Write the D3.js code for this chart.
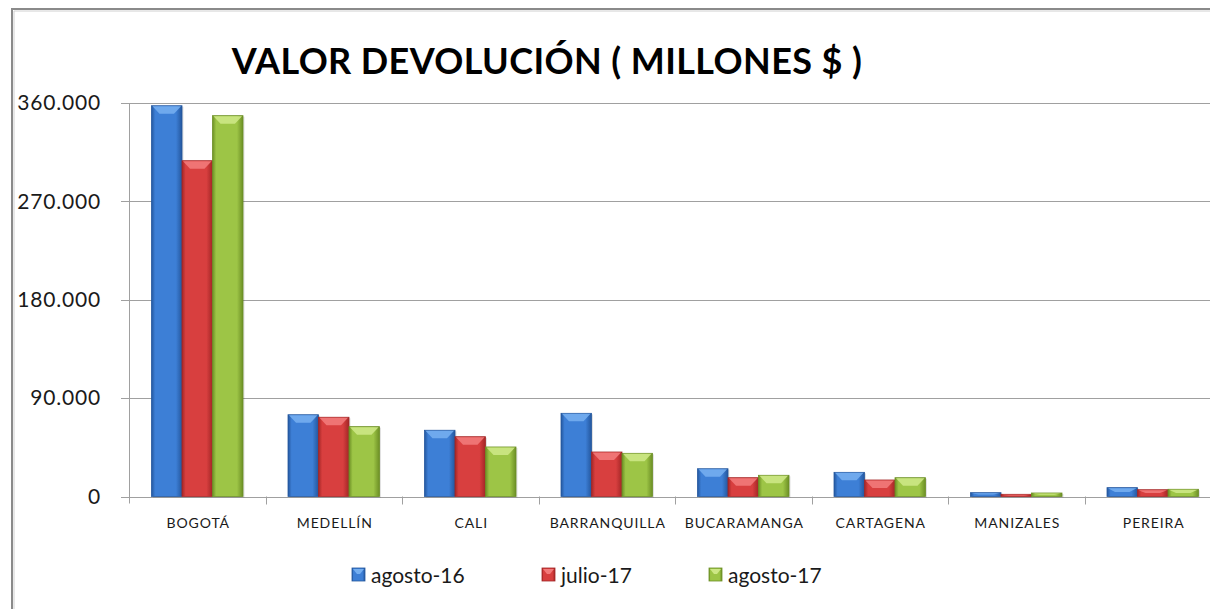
<!DOCTYPE html>
<html>
<head>
<meta charset="utf-8">
<script src="https://cdn.jsdelivr.net/npm/d3@7"></script>
<style>
  html, body { margin: 0; padding: 0; background: #fff; }
  svg { display: block; font-family: Lato, "Open Sans", sans-serif; }
</style>
</head>
<body>
<svg id="chart" width="1210" height="609" viewBox="0 0 1210 609"></svg>
<script>
'use strict';

var categories = ['BOGOTÁ', 'MEDELLÍN', 'CALI', 'BARRANQUILLA', 'BUCARAMANGA', 'CARTAGENA', 'MANIZALES', 'PEREIRA'];
var seriesNames = ['agosto-16', 'julio-17', 'agosto-17'];
var agosto16 = [357500, 74800, 60600, 76100, 25400, 22100, 3500, 8100];
var julio17 = [307200, 72500, 54700, 40700, 17200, 15100, 2000, 6200];
var agosto17 = [348400, 63900, 45300, 39500, 19400, 17200, 3200, 6600];
var yTicks = [0, 90000, 180000, 270000, 360000];
var title = 'VALOR DEVOLUCIÓN ( MILLONES $ )';

(function () {
  var svg = d3.select('#chart');
  var values = [agosto16, julio17, agosto17];
  var palette = [
    { dark: '#24579e', mid: '#3d7fd6', light: '#74aef0' },
    { dark: '#a32626', mid: '#d83f3f', light: '#f27a7a' },
    { dark: '#6c8f25', mid: '#9dc546', light: '#cde785' }
  ];

  var left = 129, right = 1221, top = 103, bottom = 496.5;

  var fmt = d3.formatLocale({ decimal: ',', thousands: '.', grouping: [3], currency: ['$', ''] }).format(',d');

  var x0 = d3.scaleBand().domain(categories).range([left, right]);
  var x1 = d3.scaleBand().domain(seriesNames).range([0, x0.bandwidth()]).paddingOuter(0.738);
  var y = d3.scaleLinear().domain([0, 360000]).range([bottom, top]);

  var defs = svg.append('defs');
  palette.forEach(function (c, i) {
    var gr = defs.append('linearGradient').attr('id', 'grad' + i).attr('x1', 0).attr('x2', 1).attr('y1', 0).attr('y2', 0);
    gr.append('stop').attr('offset', '0%').attr('stop-color', c.dark);
    gr.append('stop').attr('offset', '12%').attr('stop-color', c.mid);
    gr.append('stop').attr('offset', '80%').attr('stop-color', c.mid);
    gr.append('stop').attr('offset', '100%').attr('stop-color', c.dark);
  });

  // outer frame
  svg.append('path').attr('d', 'M12,609 V9 H1210').attr('fill', 'none').attr('stroke', '#8a8a8a').attr('stroke-width', 2);
  svg.append('path').attr('d', 'M14,609 V11 H1210').attr('fill', 'none').attr('stroke', '#d0d0d0').attr('stroke-width', 1);

  // title
  svg.append('text').attr('x', 547).attr('y', 74).attr('text-anchor', 'middle')
    .attr('font-size', 36).attr('letter-spacing', 0.4).attr('font-weight', 'bold').attr('fill', '#000').text(title);

  // gridlines
  svg.append('g').selectAll('line').data(yTicks.filter(function (d) { return d > 0; })).enter().append('line')
    .attr('x1', left).attr('x2', 1210)
    .attr('y1', function (d) { return Math.round(y(d)) + 0.5; })
    .attr('y2', function (d) { return Math.round(y(d)) + 0.5; })
    .attr('stroke', '#a0a0a0').attr('stroke-width', 1);

  // y axis
  var yG = svg.append('g');
  yG.append('line').attr('x1', left + 0.5).attr('x2', left + 0.5).attr('y1', top).attr('y2', bottom + 7).attr('stroke', '#a0a0a0');
  yG.selectAll('line.tick').data(yTicks).enter().append('line').attr('class', 'tick')
    .attr('x1', left - 8).attr('x2', left)
    .attr('y1', function (d) { return Math.round(y(d)) + 0.5; })
    .attr('y2', function (d) { return Math.round(y(d)) + 0.5; })
    .attr('stroke', '#a0a0a0');
  yG.selectAll('text').data(yTicks).enter().append('text')
    .attr('x', 101).attr('y', function (d) { return y(d); }).attr('dy', '0.35em')
    .attr('text-anchor', 'end').attr('font-size', 21).attr('letter-spacing', 0.8).attr('fill', '#1a1a1a')
    .text(function (d) { return fmt(d); });

  // x axis
  var xG = svg.append('g');
  xG.append('line').attr('x1', left).attr('x2', 1210).attr('y1', Math.round(bottom) + 0.5).attr('y2', Math.round(bottom) + 0.5).attr('stroke', '#a0a0a0');
  xG.selectAll('line.tick').data(categories).enter().append('line').attr('class', 'tick')
    .attr('x1', function (d) { return Math.round(x0(d) + x0.bandwidth()) + 0.5; })
    .attr('x2', function (d) { return Math.round(x0(d) + x0.bandwidth()) + 0.5; })
    .attr('y1', bottom).attr('y2', bottom + 8).attr('stroke', '#a0a0a0');
  xG.selectAll('text').data(categories).enter().append('text')
    .attr('x', function (d) { return x0(d) + x0.bandwidth() / 2 + 1; })
    .attr('y', 528).attr('text-anchor', 'middle').attr('font-size', 14).attr('letter-spacing', 0.9)
    .attr('fill', '#1a1a1a').text(function (d) { return d; });

  // bars
  var groups = svg.append('g').selectAll('g').data(categories).enter().append('g')
    .attr('transform', function (d) { return 'translate(' + x0(d) + ',0)'; });

  groups.each(function (cat, ci) {
    var gg = d3.select(this);
    seriesNames.forEach(function (s, si) {
      var v = values[si][ci];
      var bx = x1(s), bw = x1.bandwidth();
      var by = y(v), bh = y(0) - y(v);
      var c = palette[si];
      gg.append('rect').attr('x', bx + 1.5).attr('y', by + 1).attr('width', bw).attr('height', bh)
        .attr('fill', '#000').attr('opacity', 0.12);
      gg.append('rect').attr('x', bx).attr('y', by).attr('width', bw).attr('height', bh)
        .attr('fill', 'url(#grad' + si + ')').attr('stroke', c.dark).attr('stroke-width', 0.8);
      var cap = Math.min(8, bh / 2);
      var inset = Math.min(8, bw / 3);
      gg.append('path')
        .attr('d', 'M' + (bx + 1) + ',' + (by + 0.5) + 'H' + (bx + bw - 1) +
          'L' + (bx + bw - inset) + ',' + (by + cap) + 'H' + (bx + inset) + 'Z')
        .attr('fill', c.light).attr('opacity', 0.9);
    });
  });

  // legend
  var legendX = [352, 542, 709];
  var lg = svg.append('g').selectAll('g').data(seriesNames).enter().append('g')
    .attr('transform', function (d, i) { return 'translate(' + legendX[i] + ',568)'; });
  lg.append('rect').attr('width', 13).attr('height', 13)
    .attr('fill', function (d, i) { return 'url(#grad' + i + ')'; })
    .attr('stroke', function (d, i) { return palette[i].dark; }).attr('stroke-width', 0.8);
  lg.append('path').attr('d', 'M1,1H12L8,6H5Z').attr('fill', function (d, i) { return palette[i].light; });
  lg.append('text').attr('x', 19).attr('y', 14.5).attr('font-size', 21).attr('fill', '#1a1a1a')
    .text(function (d) { return d; });
})();
</script>
</body>
</html>
